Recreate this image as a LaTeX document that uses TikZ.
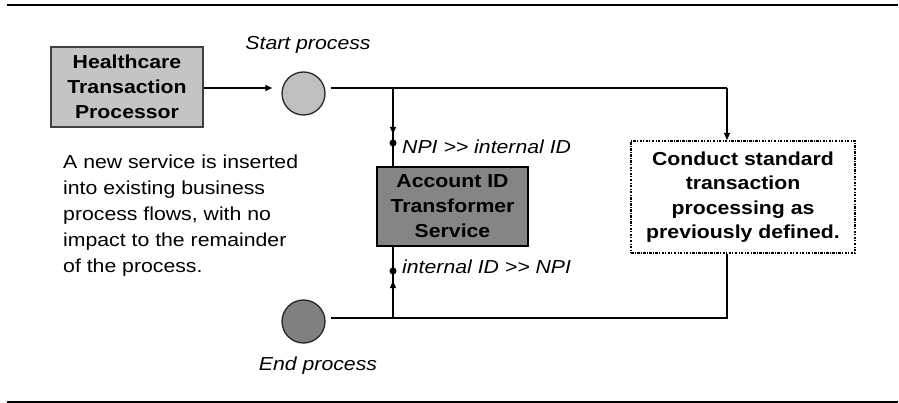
\documentclass[tikz,border=0pt]{standalone}
\usepackage{fontspec}
\setmainfont{Liberation Sans}[FakeStretch=1.13]
\usetikzlibrary{arrows.meta}
\tikzset{
  lbl/.style={font=\fontsize{18.8}{25}\selectfont\itshape, inner sep=0pt},
  boxtxt/.style={font=\fontsize{18.8}{25}\selectfont\bfseries, align=center, inner sep=0pt},
  lightbox/.style={boxtxt, draw=black!75, line width=2pt, fill=black!23, minimum width=152pt, minimum height=80pt},
  darkbox/.style={boxtxt, draw=black, line width=2pt, fill=black!48, minimum width=151pt, minimum height=79pt},
  dashbox/.style={boxtxt, draw=black, line width=2pt, dash pattern=on 2.5pt off 1.3pt on 1pt off 1.3pt, fill=white, minimum width=224pt, minimum height=112pt},
  evt/.style={circle, draw=black!85, line width=1.3pt, minimum size=43pt, inner sep=0pt},
  conn/.style={line width=1.2pt, black},
  arr/.style={conn, -{Triangle[length=7pt,width=6pt]}},
  dotn/.style={circle, fill=black, inner sep=0pt, minimum size=7pt},
  rule/.style={line width=2pt, black}
}
\begin{document}
\begin{tikzpicture}[x=1pt,y=-1pt]
\useasboundingbox (0,0) rectangle (899,403);
% rules
\coordinate (r1) at (7,5);
\coordinate (r2) at (898,5);
\coordinate (r3) at (7,402);
\coordinate (r4) at (898,402);
\draw[rule] (r1) -- (r2);
\draw[rule, line width=1.6pt] (r3) -- (r4);
% nodes
\node[lightbox] (hc) at (127,87) {Healthcare\\Transaction\\Processor};
\node[evt, fill=black!25] (sc) at (303.5,93.5) {};
\node[lbl] (stl) at (308,45) {Start process};
\node[darkbox] (acc) at (452.5,206.5) {Account ID\\Transformer\\Service};
\node[dashbox, font=\fontsize{18.8}{24.5}\selectfont\bfseries] (cb) at (743,197) {Conduct standard\\transaction\\processing as\\previously defined.};
\node[evt, fill=black!50] (ec) at (303.5,321.5) {};
\node[lbl] (enl) at (318,366) {End process};
\node[lbl, anchor=west] (npi1) at (402,147) {NPI >{}> internal ID};
\node[lbl, anchor=west] (npi2) at (402,267) {internal ID >{}> NPI};
\node[font=\fontsize{18.8}{25.8}\selectfont, align=left, anchor=north west, inner sep=0pt] (para) at (63,155)
  {A new service is inserted\\into existing business\\process flows, with no\\impact to the remainder\\of the process.};
% junction coordinates
\coordinate (t1) at (393,88);
\coordinate (t2) at (727,88);
\coordinate (b1) at (393,318);
\coordinate (b2) at (727,318);
\coordinate (a1) at (393,134);
\coordinate (a2) at (393,281);
\node[dotn] (d1) at (393,143) {};
\node[dotn] (d2) at (393,271) {};
% connectors
\draw[arr, shorten >=9pt] (hc.east |- t1) -- (sc.west |- t1);
\draw[conn, shorten <=5pt] (sc.east |- t1) -- (t2);
\draw[arr] (t2) -- (t2 |- cb.north);
\draw[conn] (t1) -- (t1 |- acc.north);
\draw[arr] (t1) -- (a1);
\draw[conn] (b2 |- cb.south) -- (b2) -- ([xshift=5pt]ec.east |- b2);
\draw[conn] (b1) -- (b1 |- acc.south);
\draw[arr] (b1) -- (a2);
\end{tikzpicture}
\end{document}
